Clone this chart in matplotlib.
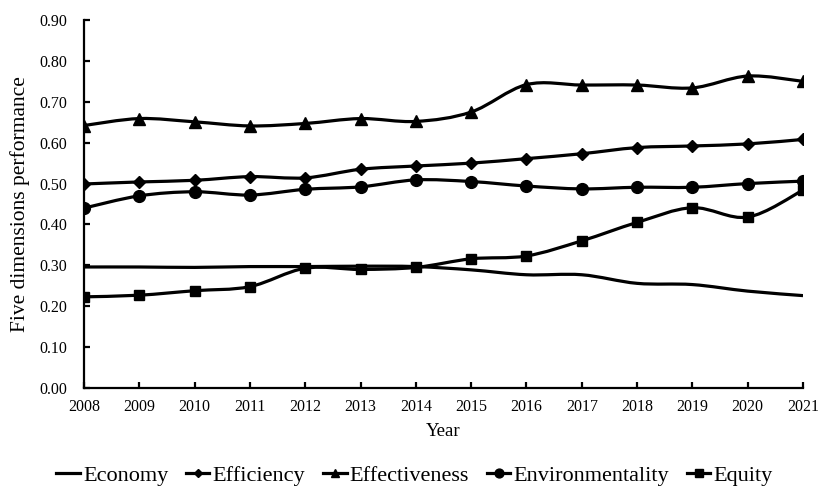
import matplotlib
matplotlib.use("Agg")
import matplotlib.pyplot as plt
import numpy as np
from matplotlib.path import Path
from matplotlib.patches import PathPatch
from matplotlib.lines import Line2D

plt.rcParams['font.family'] = ['Liberation Serif', 'DejaVu Serif']

# Data
years = [2008, 2009, 2010, 2011, 2012, 2013, 2014,
         2015, 2016, 2017, 2018, 2019, 2020, 2021]
economy = [0.296, 0.296, 0.295, 0.297, 0.297, 0.298, 0.297,
           0.289, 0.277, 0.277, 0.256, 0.253, 0.237, 0.226]
efficiency = [0.499, 0.504, 0.508, 0.517, 0.514, 0.535, 0.543,
              0.550, 0.561, 0.573, 0.588, 0.592, 0.597, 0.608]
effectiveness = [0.642, 0.659, 0.651, 0.641, 0.647, 0.659, 0.652,
                 0.675, 0.742, 0.741, 0.741, 0.734, 0.763, 0.750]
environmentality = [0.440, 0.470, 0.480, 0.472, 0.486, 0.492, 0.509,
                    0.505, 0.494, 0.487, 0.491, 0.491, 0.500, 0.506]
equity = [0.223, 0.227, 0.238, 0.248, 0.293, 0.290, 0.295,
          0.316, 0.323, 0.360, 0.405, 0.441, 0.418, 0.484]

series_names = ['Economy', 'Efficiency', 'Effectiveness', 'Environmentality', 'Equity']
series_values = [economy, efficiency, effectiveness, environmentality, equity]
series_markers = [None, 'D', '^', 'o', 's']
marker_sizes = [0, 6, 8, 8.5, 7.5]


# Excel-style smoothed line: Catmull-Rom curve drawn as cubic Bezier path
def smooth_path(x, y):
    pts = np.column_stack([x, y]).astype(float)
    n = len(pts)
    verts = [pts[0]]
    codes = [Path.MOVETO]
    for i in range(n - 1):
        p0 = pts[i - 1] if i > 0 else pts[i]
        p1 = pts[i]
        p2 = pts[i + 1]
        p3 = pts[i + 2] if i + 2 < n else pts[i + 1]
        c1 = p1 + (p2 - p0) / 6.0
        c2 = p2 - (p3 - p1) / 6.0
        verts += [c1, c2, p2]
        codes += [Path.CURVE4] * 3
    return Path(verts, codes)


fig = plt.figure(figsize=(8.18, 4.86), dpi=100)
ax = fig.add_axes([0.1027, 0.2016, 0.879, 0.7572])

handles = []
for name, vals, mk, ms in zip(series_names, series_values, series_markers, marker_sizes):
    ax.add_patch(PathPatch(smooth_path(years, vals), fill=False,
                           edgecolor='black', linewidth=2.3, zorder=3))
    if mk:
        ax.plot(years, vals, linestyle='none', marker=mk, markersize=ms,
                color='black', zorder=4)
    handles.append(Line2D([], [], color='black', linewidth=2.3,
                          marker=mk if mk else None, markersize=ms * 0.75))

ax.set_xlim(2008, 2021)
ax.set_ylim(0, 0.9)
ax.set_xticks(years)
ax.set_yticks(np.arange(0, 0.91, 0.1))
ax.yaxis.set_major_formatter(matplotlib.ticker.FormatStrFormatter('%.2f'))

for s in ['top', 'right']:
    ax.spines[s].set_visible(False)
for s in ['left', 'bottom']:
    ax.spines[s].set_linewidth(1.6)
ax.tick_params(axis='both', direction='in', length=4, width=1.6, labelsize=11.5)
ax.tick_params(axis='y', pad=12)
ax.tick_params(axis='x', pad=8)

ax.set_xlabel('Year', fontsize=13.5, labelpad=6)
ax.set_ylabel('Five dimensions performance', fontsize=15.5, labelpad=7)

fig.legend(handles, series_names, loc='center', bbox_to_anchor=(0.507, 0.021),
           ncol=5, frameon=False, fontsize=16, handlelength=1.05,
           handletextpad=0.15, columnspacing=0.8, borderaxespad=0)

fig.savefig('out.png', dpi=100)
